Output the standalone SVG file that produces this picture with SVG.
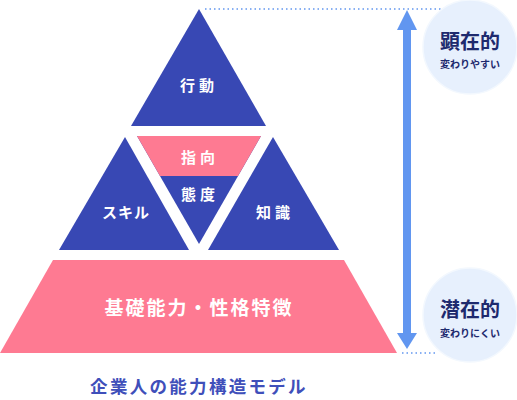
<svg xmlns="http://www.w3.org/2000/svg" width="517" height="400" viewBox="0 0 517 400">
<defs>
<style>
.blue{fill:#3848b4}
.pink{fill:#fe7a92}
.lbl{font-family:"Noto Sans CJK JP","Noto Sans",sans-serif;font-weight:bold;fill:#fff;text-anchor:middle}
.circ{fill:#e7f0fd;stroke:#f3f8fe;stroke-width:1.5}
.ctit{font-family:"Noto Sans CJK JP",sans-serif;font-weight:bold;fill:#1e2a6e;text-anchor:middle;font-size:20px}
.csub{font-family:"Noto Sans CJK JP",sans-serif;font-weight:bold;fill:#1e2a6e;text-anchor:middle;font-size:10px}
.dot{stroke:#6196f0;stroke-width:1.5;stroke-dasharray:1.5 3;fill:none}
</style>
</defs>
<g id="connectors">
<line class="dot" x1="205" y1="9" x2="442" y2="9"/>
<line class="dot" x1="402" y1="353" x2="438" y2="353"/>
<line x1="407" y1="30" x2="407" y2="333" stroke="#6196f0" stroke-width="8"/>
<path d="M397 30 L407 10 L417 30 Z" fill="#6196f0"/>
<path d="M397 333 L407 349 L417 333 Z" fill="#6196f0"/>
</g>
<g id="node-koudou">
<polygon class="blue" points="199,9 266,126 131,126"/>
<text class="lbl" x="199" y="91" font-size="15" letter-spacing="4">行動</text>
</g>
<g id="node-taido">
<polygon class="blue" points="137,136 261,136 199,244"/>
<polygon class="pink" points="137,136 261,136 238,176 160,176"/>
<text class="lbl" x="200" y="163" font-size="15" letter-spacing="4">指向</text>
<text class="lbl" x="200" y="200" font-size="15" letter-spacing="4">態度</text>
</g>
<g id="node-skill">
<polygon class="blue" points="125,137 189,250 59,250"/>
<text class="lbl" x="126" y="218" font-size="15" letter-spacing="1">スキル</text>
</g>
<g id="node-chishiki">
<polygon class="blue" points="273,137 339,250 208,250"/>
<text class="lbl" x="275" y="218" font-size="15" letter-spacing="4">知識</text>
</g>
<g id="node-kiso">
<polygon class="pink" points="53,260 344,260 397,353 0,353"/>
<text class="lbl" x="199" y="315" font-size="19" letter-spacing="2">基礎能力・性格特徴</text>
</g>
<g id="node-kenzai">
<circle class="circ" cx="470" cy="47" r="47"/>
<text class="ctit" x="470" y="49">顕在的</text>
<text class="csub" x="470" y="68">変わりやすい</text>
</g>
<g id="node-senzai">
<circle class="circ" cx="470" cy="315" r="47"/>
<text class="ctit" x="470" y="317">潜在的</text>
<text class="csub" x="470" y="337">変わりにくい</text>
</g>
<g id="caption">
<text x="199" y="393" font-family="Noto Sans CJK JP,sans-serif" font-weight="bold" font-size="17.5" letter-spacing="2.3" fill="#3f4fba" text-anchor="middle">企業人の能力構造モデル</text>
</g>
</svg>
